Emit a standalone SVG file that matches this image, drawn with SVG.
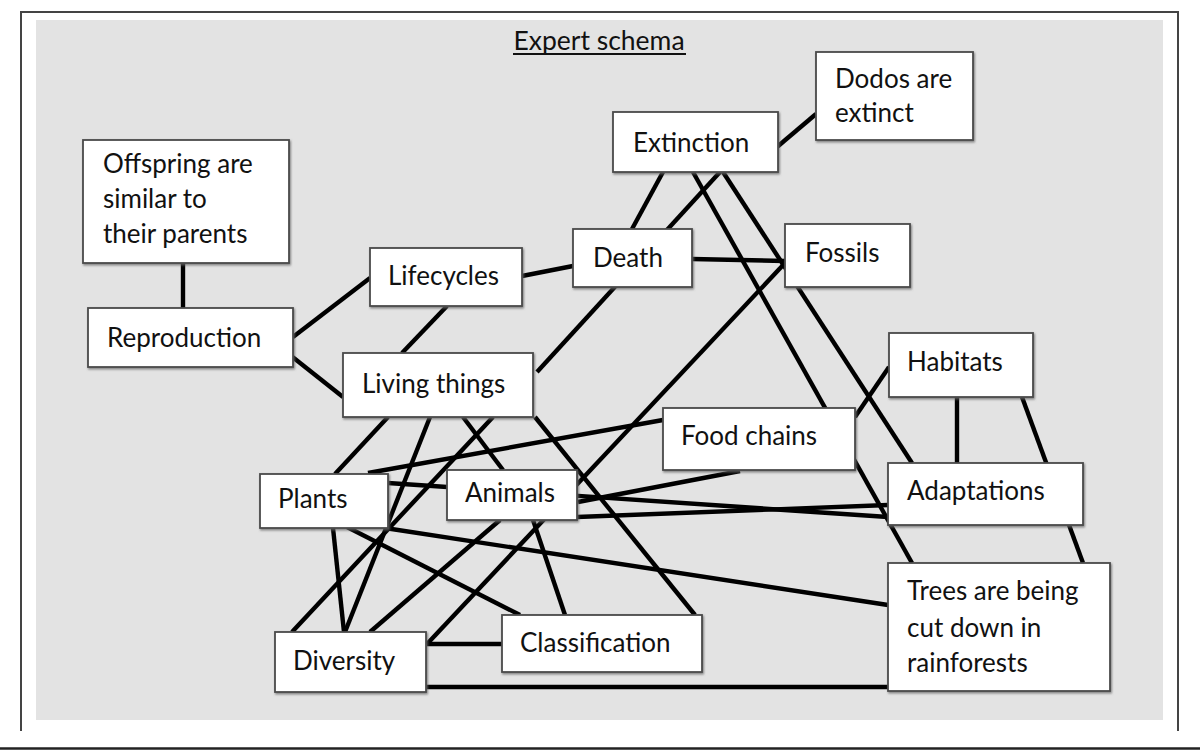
<svg xmlns="http://www.w3.org/2000/svg" width="1200" height="751" viewBox="0 0 1200 751">
<defs>
<style>
.frame{fill:none;stroke:#444;stroke-width:2}
.box{fill:#fff;stroke:#4a4a4a;stroke-width:1.8}
.lbl{font-family:Lato,"Liberation Sans",sans-serif;font-size:26px;fill:#111}
.title{font-family:Lato,"Liberation Sans",sans-serif;font-size:26.5px;fill:#111}
#connectors line{stroke:#000;stroke-width:4.4;stroke-linecap:butt}
</style>
<filter id="sh" x="-5%" y="-5%" width="115%" height="120%">
<feDropShadow dx="1" dy="1.5" stdDeviation="0.8" flood-color="#666" flood-opacity="0.8"/>
</filter>
</defs>
<rect x="0" y="0" width="1200" height="751" fill="#fff"/>
<rect x="36" y="20" width="1127" height="700" fill="#e3e3e3"/>
<path class="frame" d="M21,731 V12 H1178 V731"/>
<line x1="0" y1="748.5" x2="1200" y2="748.5" stroke="#222" stroke-width="2.5"/>
<g id="title">
<text class="title" x="599" y="50" text-anchor="middle">Expert schema</text>
<line x1="513" y1="54" x2="686" y2="54" stroke="#111" stroke-width="2"/>
</g>
<g id="connectors">
<line x1="183" y1="263" x2="183" y2="308"/>
<line x1="293" y1="337" x2="370" y2="278"/>
<line x1="290" y1="355" x2="343" y2="397"/>
<line x1="522" y1="276" x2="573" y2="266"/>
<line x1="447" y1="306" x2="402" y2="353"/>
<line x1="720" y1="172" x2="537" y2="372"/>
<line x1="663" y1="172" x2="632" y2="229"/>
<line x1="693" y1="172" x2="912" y2="563"/>
<line x1="723" y1="172" x2="912" y2="463"/>
<line x1="777" y1="147" x2="816" y2="114"/>
<line x1="692" y1="259" x2="785" y2="261"/>
<line x1="785" y1="263" x2="427" y2="644"/>
<line x1="663" y1="420" x2="368" y2="473"/>
<line x1="740" y1="471" x2="578" y2="502"/>
<line x1="388" y1="483" x2="888" y2="517"/>
<line x1="577" y1="517" x2="888" y2="505"/>
<line x1="889" y1="367" x2="855" y2="417"/>
<line x1="957" y1="397" x2="957" y2="463"/>
<line x1="1022" y1="397" x2="1083" y2="563"/>
<line x1="426" y1="687" x2="888" y2="687"/>
<line x1="385" y1="528" x2="888" y2="605"/>
<line x1="347" y1="527" x2="520" y2="615"/>
<line x1="333" y1="528" x2="344" y2="632"/>
<line x1="388" y1="417" x2="335" y2="474"/>
<line x1="430" y1="417" x2="345" y2="632"/>
<line x1="493" y1="417" x2="292" y2="632"/>
<line x1="500" y1="520" x2="370" y2="632"/>
<line x1="533" y1="520" x2="565" y2="615"/>
<line x1="463" y1="417" x2="503" y2="470"/>
<line x1="535" y1="417" x2="695" y2="615"/>
<line x1="427" y1="644" x2="502" y2="644"/>
</g>
<g id="offspring"><rect class="box" filter="url(#sh)" x="83" y="140" width="206" height="123"/>
<text class="lbl" x="103" y="173">Offspring are</text><text class="lbl" x="103" y="208">similar to</text><text class="lbl" x="103" y="243">their parents</text></g>
<g id="reproduction"><rect class="box" filter="url(#sh)" x="88" y="308" width="205" height="59"/><text class="lbl" x="107" y="347">Reproduction</text></g>
<g id="lifecycles"><rect class="box" filter="url(#sh)" x="370" y="248" width="152" height="58"/><text class="lbl" x="388" y="285">Lifecycles</text></g>
<g id="death"><rect class="box" filter="url(#sh)" x="573" y="229" width="119" height="58"/><text class="lbl" x="593" y="267">Death</text></g>
<g id="extinction"><rect class="box" filter="url(#sh)" x="613" y="112" width="165" height="60"/><text class="lbl" x="633" y="152">Extinction</text></g>
<g id="dodos"><rect class="box" filter="url(#sh)" x="816" y="52" width="157" height="88"/><text class="lbl" x="835" y="88">Dodos are</text><text class="lbl" x="835" y="122">extinct</text></g>
<g id="fossils"><rect class="box" filter="url(#sh)" x="785" y="224" width="125" height="63"/><text class="lbl" x="805" y="262">Fossils</text></g>
<g id="living"><rect class="box" filter="url(#sh)" x="343" y="353" width="190" height="64"/><text class="lbl" x="362" y="393">Living things</text></g>
<g id="habitats"><rect class="box" filter="url(#sh)" x="889" y="333" width="144" height="64"/><text class="lbl" x="907" y="371">Habitats</text></g>
<g id="foodchains"><rect class="box" filter="url(#sh)" x="663" y="408" width="192" height="62"/><text class="lbl" x="681" y="445">Food chains</text></g>
<g id="adaptations"><rect class="box" filter="url(#sh)" x="888" y="463" width="195" height="62"/><text class="lbl" x="907" y="500">Adaptations</text></g>
<g id="plants"><rect class="box" filter="url(#sh)" x="260" y="474" width="128" height="54"/><text class="lbl" x="278" y="508">Plants</text></g>
<g id="animals"><rect class="box" filter="url(#sh)" x="447" y="470" width="130" height="50"/><text class="lbl" x="465" y="502">Animals</text></g>
<g id="diversity"><rect class="box" filter="url(#sh)" x="275" y="632" width="151" height="60"/><text class="lbl" x="293" y="670">Diversity</text></g>
<g id="classification"><rect class="box" filter="url(#sh)" x="502" y="615" width="200" height="57"/><text class="lbl" x="520" y="652">Classification</text></g>
<g id="trees"><rect class="box" filter="url(#sh)" x="888" y="563" width="222" height="128"/>
<text class="lbl" x="907" y="600">Trees are being</text><text class="lbl" x="907" y="637">cut down in</text><text class="lbl" x="907" y="672">rainforests</text></g>
</svg>
